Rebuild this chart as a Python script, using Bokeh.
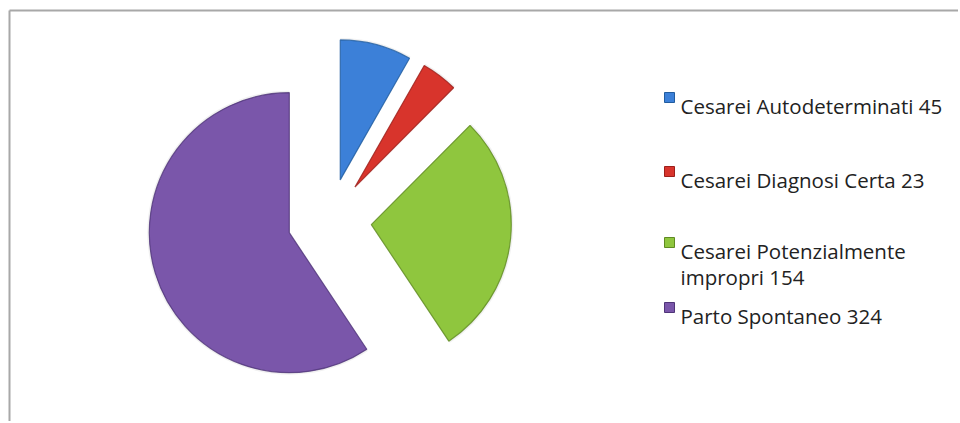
import math
from bokeh.plotting import figure
from bokeh.models import ColumnDataSource, Range1d
from bokeh.core.properties import value
from bokeh.embed import file_html
from bokeh.resources import INLINE

# ---- data ----
categories = ["Cesarei Autodeterminati", "Cesarei Diagnosi Certa",
              "Cesarei Potenzialmente impropri", "Parto Spontaneo"]
counts = [45, 23, 154, 324]
legend_lines = [["Cesarei Autodeterminati 45"],
                ["Cesarei Diagnosi Certa 23"],
                ["Cesarei Potenzialmente", "impropri 154"],
                ["Parto Spontaneo 324"]]
fill_colors = ["#3c80d8", "#d8342c", "#8fc63e", "#7a56aa"]
edge_colors = ["#215c9f", "#9c1f1a", "#5f8a22", "#4f3478"]

# ---- layout (page pixels -> data units, 1:1) ----
W, H = 958, 421
OFF = 1
def px(x):
    return x - OFF
def py(y):
    return OFF + H - y

cx, cy = px(330), py(221)
R = 140
EXPLODE = 42

total = float(sum(counts))
xs, ys, starts, ends = [], [], [], []
cum = 0.0
for c in counts:
    s = cum / total
    e = (cum + c) / total
    cum += c
    a0 = math.pi / 2 - 2 * math.pi * s
    a1 = math.pi / 2 - 2 * math.pi * e
    mid = (a0 + a1) / 2
    xs.append(cx + EXPLODE * math.cos(mid))
    ys.append(cy + EXPLODE * math.sin(mid))
    starts.append(a0)
    ends.append(a1)

src = ColumnDataSource(dict(x=xs, y=ys, start=starts, end=ends,
                            fill=fill_colors, edge=edge_colors, cat=categories))

p = figure(width=W, height=H, output_backend="svg", toolbar_location=None,
           x_range=Range1d(0, W), y_range=Range1d(0, H), min_border=0,
           background_fill_color="white", border_fill_color="white")
p.axis.visible = False
p.grid.visible = False
p.outline_line_color = None

# chart border (top and left edges)
p.line([px(10), px(10)], [py(430), py(11)], line_color="#a8a8a8", line_width=2)
p.line([px(10), px(970)], [py(11), py(11)], line_color="#a8a8a8", line_width=2)

# soft glow/shadow
p.wedge(x="x", y="y", radius=R + 2, start_angle="start", end_angle="end",
        direction="clock", source=src, fill_color="#d8d8d8", fill_alpha=0.35,
        line_color=None)
# slices
p.wedge(x="x", y="y", radius=R, start_angle="start", end_angle="end",
        direction="clock", source=src, fill_color="fill", line_color="edge",
        line_width=1.2, line_alpha=0.8)

# legend (baselines in page pixels)
row_base = [106, 180, 251, 316]
line_gap = 26
mx, tx = 670, 681
for i, lines in enumerate(legend_lines):
    b0 = row_base[i]
    p.rect([px(mx)], [py(b0 - 8)], width=10, height=10, fill_color=fill_colors[i],
           line_color=edge_colors[i], line_width=1)
    for j, t in enumerate(lines):
        p.text([px(tx)], [py(b0 + j * line_gap)], text=[t],
               text_font=value("Open Sans"), text_font_size="20.5px",
               text_color="#222222", text_baseline="alphabetic", text_align="left")

open("out.html", "w").write(file_html(p, INLINE))
